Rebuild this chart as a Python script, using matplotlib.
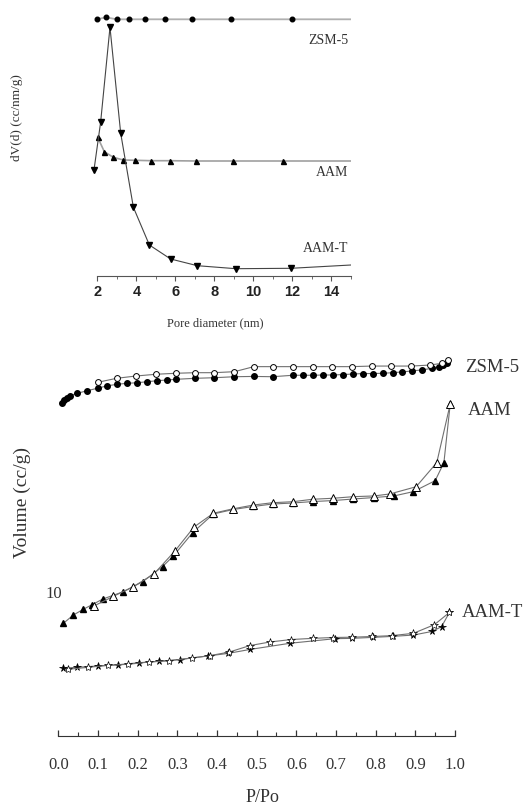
import matplotlib
matplotlib.use("Agg")
import matplotlib.pyplot as plt
from matplotlib.ticker import MultipleLocator

plt.rcParams['font.family'] = ['Liberation Serif', 'DejaVu Serif']

# ---- pore size distribution (top panel), arbitrary dV units ----
zsm_d = [1.96, 2.44, 2.98, 3.60, 4.44, 5.46, 6.85, 8.85, 11.97, 15.0]
zsm_dv = [2.567, 2.587, 2.567, 2.567, 2.567, 2.567, 2.567, 2.567, 2.567, 2.567]
aam_d = [2.01, 2.35, 2.81, 3.32, 3.94, 4.73, 5.72, 7.05, 8.96, 11.53, 15.0]
aam_dv = [1.387, 1.243, 1.187, 1.160, 1.157, 1.153, 1.153, 1.150, 1.150, 1.150, 1.150]
aamt_d = [1.82, 2.16, 2.64, 3.19, 3.84, 4.66, 5.75, 7.12, 9.10, 11.92, 15.0]
aamt_dv = [1.06, 1.537, 2.487, 1.427, 0.687, 0.31, 0.17, 0.103, 0.073, 0.077, 0.11]

# ---- isotherms (bottom panel) ----
zsm_ads_p = [0.009, 0.014, 0.021, 0.029, 0.048, 0.073, 0.099, 0.122, 0.147, 0.172,
             0.198, 0.223, 0.248, 0.273, 0.297, 0.345, 0.393, 0.444, 0.493, 0.540,
             0.591, 0.618, 0.643, 0.668, 0.693, 0.718, 0.744, 0.769, 0.794, 0.819,
             0.843, 0.866, 0.891, 0.916, 0.941, 0.960, 0.971, 0.979]
zsm_ads_v = [23.15, 23.33, 23.49, 23.63, 23.80, 23.98, 24.15, 24.31, 24.42, 24.49,
             24.53, 24.60, 24.67, 24.72, 24.77, 24.84, 24.88, 24.95, 24.97, 24.95,
             25.05, 25.05, 25.05, 25.07, 25.07, 25.10, 25.14, 25.17, 25.17, 25.19,
             25.23, 25.28, 25.35, 25.42, 25.53, 25.65, 25.76, 25.92]
zsm_des_p = [0.983, 0.966, 0.937, 0.889, 0.839, 0.790, 0.740, 0.689, 0.641, 0.591,
             0.542, 0.493, 0.444, 0.393, 0.345, 0.297, 0.246, 0.196, 0.147, 0.099]
zsm_des_v = [26.11, 25.88, 25.76, 25.69, 25.69, 25.69, 25.65, 25.65, 25.65, 25.65,
             25.65, 25.65, 25.30, 25.23, 25.23, 25.19, 25.12, 25.00, 24.84, 24.56]

aam_ads_p = [0.013, 0.038, 0.063, 0.084, 0.112, 0.164, 0.213, 0.263, 0.290, 0.339,
             0.391, 0.441, 0.492, 0.540, 0.591, 0.641, 0.693, 0.744, 0.796, 0.846,
             0.895, 0.950, 0.972, 0.988]
aam_ads_v = [7.83, 8.40, 8.80, 9.10, 9.51, 10.02, 10.72, 11.77, 12.50, 14.13,
             15.42, 15.73, 15.94, 16.11, 16.18, 16.28, 16.35, 16.46, 16.56, 16.67,
             16.97, 17.73, 18.98, 23.06]
aam_des_p = [0.988, 0.954, 0.902, 0.836, 0.796, 0.744, 0.693, 0.641, 0.591, 0.540,
             0.492, 0.441, 0.391, 0.342, 0.294, 0.241, 0.189, 0.139, 0.090]
aam_des_v = [23.06, 18.98, 17.31, 16.81, 16.67, 16.62, 16.51, 16.44, 16.27, 16.20,
             16.04, 15.78, 15.47, 14.51, 12.85, 11.25, 10.37, 9.70, 9.03]

aamt_ads_p = [0.011, 0.046, 0.099, 0.151, 0.204, 0.255, 0.307, 0.378, 0.429, 0.483,
              0.584, 0.698, 0.740, 0.794, 0.844, 0.895, 0.942, 0.966, 0.986]
aamt_ads_v = [4.70, 4.77, 4.86, 4.95, 5.09, 5.19, 5.31, 5.56, 5.74, 6.01,
              6.44, 6.76, 6.78, 6.85, 6.92, 7.01, 7.26, 7.59, 8.58]
aamt_des_p = [0.986, 0.948, 0.895, 0.841, 0.792, 0.740, 0.692, 0.641, 0.587, 0.534,
              0.483, 0.431, 0.382, 0.336, 0.280, 0.229, 0.176, 0.126, 0.076, 0.024]
aamt_des_v = [8.58, 7.73, 7.13, 6.97, 6.91, 6.86, 6.84, 6.78, 6.70, 6.53,
              6.28, 5.83, 5.58, 5.42, 5.23, 5.14, 4.98, 4.91, 4.77, 4.63]

W, H = 523, 806
fig = plt.figure(figsize=(W / 100, H / 100), dpi=100)
fig.patch.set_facecolor('white')


def px_box(left, top, right, bottom):
    return [left / W, 1 - bottom / H, (right - left) / W, (bottom - top) / H]


# ---------------- top panel ----------------
ax1 = fig.add_axes(px_box(88, 10, 351, 276))
ax1.set_xlim(1.513, 15)
ax1.set_ylim(0, 2.66)
ax1.plot(zsm_d, zsm_dv, color='#b0b0b0', lw=1.3, marker='o', ms=3.3,
         mfc='black', mec='black', markevery=slice(0, -1), zorder=2)
ax1.plot(aam_d, aam_dv, color='#a0a0a0', lw=1.2, marker='^', ms=3.6,
         mfc='black', mec='black', markevery=slice(0, -1), zorder=2)
ax1.plot(aamt_d, aamt_dv, color='#444444', lw=0.8, marker='v', ms=4,
         mfc='black', mec='black', markevery=slice(0, -1), zorder=3)

for s in ['left', 'top', 'right']:
    ax1.spines[s].set_visible(False)
ax1.spines['bottom'].set_bounds(2, 15)
ax1.spines['bottom'].set_color('#555555')
ax1.set_yticks([])
ax1.xaxis.set_major_locator(MultipleLocator(2))
ax1.xaxis.set_minor_locator(MultipleLocator(1))
ax1.set_xticks([2, 4, 6, 8, 10, 12, 14])
ax1.tick_params(axis='x', which='major', direction='out', length=3.5, width=0.8,
                color='#555555', pad=3)
ax1.tick_params(axis='x', which='minor', direction='out', length=2, width=0.6,
                color='#555555')
for lab in ax1.get_xticklabels():
    lab.set_family(['Liberation Sans', 'DejaVu Sans'])
    lab.set_fontweight('bold')
    lab.set_fontsize(10.5)
    lab.set_color('#222222')

ax1.text(14.85, 2.36, 'ZSM-5', ha='right', va='center', fontsize=10, color='#333333')
ax1.text(14.85, 1.03, 'AAM', ha='right', va='center', fontsize=10, color='#333333')
ax1.text(14.85, 0.28, 'AAM-T', ha='right', va='center', fontsize=10, color='#333333')

fig.text(17 / W, 1 - 118 / H, 'dV(d) (cc/nm/g)', rotation=90, ha='center',
         va='center', fontsize=9.5, color='#333333')
fig.text(215 / W, 1 - 323 / H, 'Pore diameter (nm)', ha='center', va='center',
         fontsize=9, color='#333333')

# ---------------- bottom panel ----------------
ax2 = fig.add_axes(px_box(50, 340, 460, 736))
ax2.set_xlim(-0.0209, 1.0126)
ax2.set_ylim(0, 27.5)

line_kw = dict(color='#707070', lw=0.8, clip_on=False)
ax2.plot(zsm_ads_p, zsm_ads_v, marker='o', ms=4, mfc='black', mec='black',
         zorder=3, **line_kw)
ax2.plot(zsm_des_p, zsm_des_v, marker='o', ms=4.2, mfc='white', mec='black',
         mew=0.7, zorder=3, **line_kw)
ax2.plot(aam_ads_p, aam_ads_v, marker='^', ms=5, mfc='black', mec='black',
         zorder=3, **line_kw)
ax2.plot(aam_des_p, aam_des_v, marker='^', ms=5.2, mfc='white', mec='black',
         mew=0.7, zorder=4, **line_kw)
ax2.plot(aamt_ads_p, aamt_ads_v, marker='*', ms=5.5, mfc='black', mec='black',
         mew=0.5, zorder=3, **line_kw)
ax2.plot(aamt_des_p, aamt_des_v, marker='*', ms=6, mfc='white', mec='black',
         mew=0.5, zorder=4, **line_kw)

for s in ['left', 'top', 'right']:
    ax2.spines[s].set_visible(False)
ax2.spines['bottom'].set_bounds(0, 1)
ax2.spines['bottom'].set_color('#333333')
ax2.xaxis.set_major_locator(MultipleLocator(0.1))
ax2.xaxis.set_minor_locator(MultipleLocator(0.05))
ax2.set_xticks([i / 10 for i in range(11)])
ax2.set_xticklabels([f'{i / 10:.1f}' for i in range(11)])
ax2.tick_params(axis='x', which='major', direction='in', length=4.5, width=0.9,
                color='#333333', pad=15, labelsize=12, labelcolor='#333333')
ax2.tick_params(axis='x', which='minor', direction='in', length=3, width=0.8,
                color='#333333')
ax2.set_yticks([10])
ax2.set_yticklabels(['10'])
ax2.tick_params(axis='y', length=0, pad=-8.5, labelsize=12, labelcolor='#333333')

ax2.text(1.025, 25.6, 'ZSM-5', ha='left', va='center', fontsize=13.5, color='#333333')
ax2.text(1.032, 22.6, 'AAM', ha='left', va='center', fontsize=13.5, color='#333333')
ax2.text(1.017, 8.6, 'AAM-T', ha='left', va='center', fontsize=13.5, color='#333333')

fig.text(22 / W, 1 - 502 / H, 'Volume (cc/g)', rotation=90, ha='center',
         va='center', fontsize=14, color='#333333')
fig.text(262 / W, 1 - 798 / H, 'P/Po', ha='center', va='center', fontsize=13,
         color='#333333')

fig.savefig('out.png', dpi=100, facecolor='white')
